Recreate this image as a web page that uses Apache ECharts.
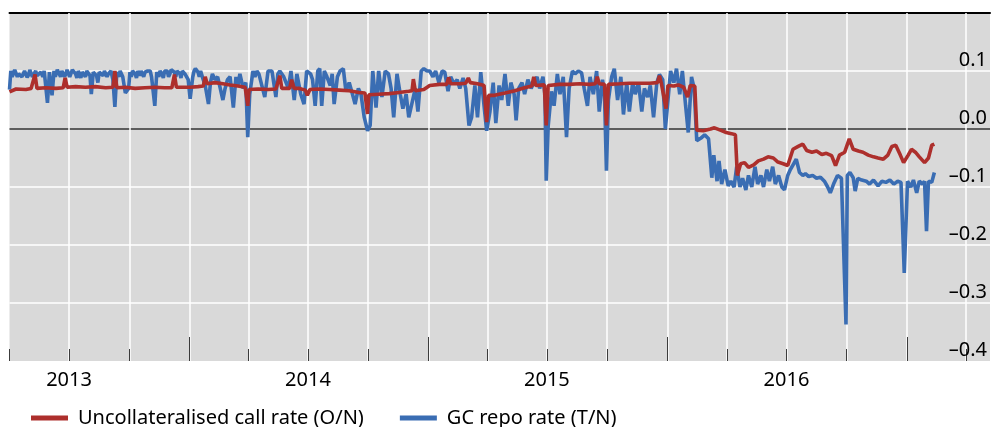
<!DOCTYPE html>
<html><head><meta charset="utf-8">
<script src="https://cdn.jsdelivr.net/npm/echarts@6.0.0/dist/echarts.min.js"></script>
<style>html,body{margin:0;padding:0;background:#fff}#c{width:992px;height:427px}</style>
</head><body><div id="c"></div>
<script>
const callName = 'Uncollateralised call rate (O/N)';
const repoName = 'GC repo rate (T/N)';

const callRate = [
['2013-04-01',0.064],['2013-04-11',0.069],['2013-04-26',0.068],['2013-05-04',0.07],['2013-05-07',0.07],['2013-05-10',0.094],['2013-05-13',0.07],
['2013-05-26',0.071],['2013-06-11',0.07],['2013-06-22',0.071],['2013-06-25',0.088],['2013-06-28',0.072],['2013-07-11',0.073],['2013-07-26',0.072],
['2013-08-10',0.073],['2013-08-26',0.071],['2013-09-06',0.072],['2013-09-09',0.1],['2013-09-12',0.071],['2013-09-25',0.072],['2013-10-10',0.07],
['2013-10-25',0.071],['2013-11-09',0.072],['2013-11-24',0.071],['2013-12-05',0.071],['2013-12-09',0.094],['2013-12-12',0.072],['2013-12-25',0.072],
['2014-01-02',0.072],['2014-01-14',0.073],['2014-01-22',0.074],['2014-01-25',0.09],['2014-01-28',0.078],['2014-02-09',0.08],['2014-02-21',0.078],
['2014-03-04',0.076],['2014-03-16',0.074],['2014-03-27',0.072],['2014-03-31',0.04],['2014-04-02',0.068],['2014-04-16',0.069],['2014-05-01',0.068],
['2014-05-13',0.069],['2014-05-19',0.092],['2014-05-22',0.07],['2014-06-03',0.07],['2014-06-06',0.085],['2014-06-10',0.07],['2014-06-18',0.07],
['2014-06-27',0.067],['2014-06-30',0.058],['2014-07-04',0.068],['2014-07-19',0.069],['2014-08-03',0.068],['2014-08-18',0.067],['2014-09-02',0.066],
['2014-09-17',0.063],['2014-09-26',0.062],['2014-09-30',0.026],['2014-10-02',0.059],['2014-10-17',0.06],['2014-11-02',0.061],['2014-11-17',0.063],
['2014-12-02',0.065],['2014-12-07',0.066],['2014-12-09',0.086],['2014-12-12',0.066],['2014-12-25',0.068],
['2015-01-03',0.075],['2015-01-18',0.077],['2015-01-29',0.077],['2015-02-01',0.089],['2015-02-04',0.078],['2015-02-18',0.078],['2015-02-27',0.079],
['2015-03-03',0.088],['2015-03-06',0.08],['2015-03-17',0.078],['2015-03-27',0.075],['2015-03-31',0.012],['2015-04-03',0.058],['2015-04-12',0.058],
['2015-04-28',0.062],['2015-05-13',0.066],['2015-05-28',0.071],['2015-06-08',0.074],['2015-06-11',0.09],['2015-06-14',0.075],['2015-06-27',0.076],
['2015-06-30',0.006],['2015-07-03',0.075],['2015-07-20',0.077],['2015-08-04',0.077],['2015-08-20',0.078],['2015-09-04',0.077],['2015-09-13',0.078],
['2015-09-16',0.09],['2015-09-19',0.078],['2015-09-27',0.077],['2015-09-30',0.006],['2015-10-03',0.077],['2015-10-20',0.078],['2015-11-04',0.079],
['2015-11-20',0.079],['2015-12-05',0.079],['2015-12-17',0.08],['2015-12-20',0.092],['2015-12-23',0.078],['2015-12-30',0.035],
['2016-01-02',0.075],['2016-01-11',0.074],['2016-01-18',0.076],['2016-01-26',0.072],['2016-02-01',0.055],['2016-02-05',0.075],['2016-02-12',0.074],
['2016-02-15',-0.002],['2016-02-25',-0.003],['2016-03-07',0.0],['2016-03-13',0.002],['2016-03-22',-0.002],['2016-03-31',-0.006],['2016-04-08',-0.008],
['2016-04-14',-0.01],['2016-04-17',-0.08],['2016-04-22',-0.06],['2016-04-28',-0.058],['2016-05-04',-0.066],['2016-05-12',-0.062],['2016-05-19',-0.055],
['2016-05-27',-0.052],['2016-06-03',-0.048],['2016-06-11',-0.05],['2016-06-18',-0.057],['2016-06-26',-0.06],['2016-07-03',-0.063],['2016-07-11',-0.035],
['2016-07-19',-0.03],['2016-07-26',-0.026],['2016-08-01',-0.037],['2016-08-09',-0.04],['2016-08-16',-0.038],['2016-08-24',-0.044],['2016-08-31',-0.042],
['2016-09-08',-0.046],['2016-09-14',-0.063],['2016-09-20',-0.045],['2016-09-28',-0.04],['2016-10-05',-0.017],['2016-10-11',-0.035],['2016-10-19',-0.038],
['2016-10-26',-0.04],['2016-11-03',-0.045],['2016-11-11',-0.048],['2016-11-18',-0.05],['2016-11-26',-0.052],['2016-12-03',-0.045],['2016-12-09',-0.03],
['2016-12-15',-0.028],['2016-12-22',-0.045],['2016-12-27',-0.058],['2017-01-03',-0.045],['2017-01-08',-0.035],['2017-01-14',-0.04],['2017-01-20',-0.048],
['2017-01-28',-0.058],['2017-02-03',-0.05],['2017-02-08',-0.028],['2017-02-12',-0.026]
];

const repoRate = [
['2013-04-01',0.068],['2013-04-03',0.1],['2013-04-05',0.09],['2013-04-07',0.092],['2013-04-09',0.102],['2013-04-11',0.1],['2013-04-13',0.09],['2013-04-15',0.095],['2013-04-18',0.098],['2013-04-20',0.09],['2013-04-22',0.088],
['2013-04-24',0.1],['2013-04-26',0.1],['2013-04-28',0.089],['2013-04-30',0.093],['2013-05-02',0.102],['2013-05-04',0.1],['2013-05-06',0.09],['2013-05-08',0.09],['2013-05-11',0.1],['2013-05-13',0.092],['2013-05-15',0.095],['2013-05-19',0.098],
['2013-05-22',0.09],['2013-05-24',0.1],['2013-05-26',0.1],['2013-05-29',0.045],['2013-06-01',0.098],['2013-06-05',0.058],['2013-06-08',0.1],['2013-06-10',0.09],['2013-06-11',0.092],
['2013-06-13',0.102],['2013-06-15',0.1],['2013-06-18',0.09],['2013-06-20',0.1],['2013-06-22',0.1],['2013-06-24',0.09],['2013-06-26',0.095],['2013-06-28',0.102],['2013-06-30',0.1],['2013-07-02',0.09],['2013-07-04',0.092],['2013-07-06',0.102],['2013-07-08',0.1],
['2013-07-11',0.095],['2013-07-13',0.088],['2013-07-15',0.1],['2013-07-19',0.088],['2013-07-21',0.098],['2013-07-23',0.1],['2013-07-26',0.09],['2013-07-28',0.1],['2013-07-30',0.1],['2013-08-02',0.092],['2013-08-04',0.06],
['2013-08-07',0.098],['2013-08-10',0.1],['2013-08-12',0.092],['2013-08-14',0.08],['2013-08-16',0.098],['2013-08-18',0.1],['2013-08-22',0.092],['2013-08-24',0.1],['2013-08-26',0.1],['2013-08-28',0.09],['2013-08-30',0.095],
['2013-09-03',0.1],['2013-09-06',0.085],['2013-09-09',0.038],['2013-09-12',0.098],['2013-09-15',0.09],['2013-09-17',0.1],['2013-09-21',0.09],['2013-09-25',0.062],
['2013-09-30',0.07],['2013-10-02',0.098],['2013-10-04',0.09],['2013-10-06',0.1],['2013-10-08',0.102],['2013-10-10',0.095],['2013-10-12',0.088],['2013-10-14',0.1],['2013-10-17',0.092],['2013-10-19',0.1],['2013-10-21',0.1],
['2013-10-23',0.09],['2013-10-25',0.098],['2013-10-29',0.1],['2013-11-02',0.1],['2013-11-04',0.09],['2013-11-06',0.092],['2013-11-09',0.04],['2013-11-12',0.098],['2013-11-15',0.09],['2013-11-17',0.1],
['2013-11-20',0.095],['2013-11-22',0.088],['2013-11-24',0.1],['2013-11-28',0.1],['2013-11-30',0.09],['2013-12-02',0.095],['2013-12-04',0.102],['2013-12-06',0.1],['2013-12-09',0.098],['2013-12-11',0.09],['2013-12-13',0.1],
['2013-12-17',0.096],['2013-12-19',0.088],['2013-12-21',0.1],['2013-12-25',0.095],['2013-12-30',0.085],
['2014-01-02',0.052],['2014-01-06',0.09],['2014-01-08',0.1],['2014-01-10',0.104],['2014-01-14',0.098],['2014-01-16',0.09],['2014-01-18',0.1],['2014-01-22',0.085],['2014-01-25',0.075],
['2014-01-30',0.043],['2014-02-02',0.08],['2014-02-05',0.095],['2014-02-09',0.085],['2014-02-13',0.09],['2014-02-17',0.07],['2014-02-21',0.05],
['2014-02-24',0.068],['2014-02-28',0.085],['2014-03-04',0.09],['2014-03-09',0.037],['2014-03-13',0.09],['2014-03-16',0.075],['2014-03-19',0.095],
['2014-03-24',0.07],['2014-03-28',0.08],['2014-03-31',-0.014],['2014-04-03',0.06],['2014-04-08',0.1],['2014-04-11',0.09],['2014-04-14',0.1],['2014-04-17',0.095],
['2014-04-20',0.098],['2014-04-26',0.055],['2014-05-01',0.1],['2014-05-04',0.098],['2014-05-07',0.1],['2014-05-13',0.055],['2014-05-16',0.095],
['2014-05-19',0.1],['2014-05-25',0.09],['2014-06-01',0.07],['2014-06-05',0.1],['2014-06-10',0.05],['2014-06-14',0.095],['2014-06-20',0.06],
['2014-06-25',0.043],['2014-06-29',0.1],['2014-07-05',0.095],['2014-07-08',0.085],['2014-07-12',0.04],['2014-07-16',0.1],['2014-07-19',0.104],
['2014-07-22',0.04],['2014-07-26',0.1],['2014-07-30',0.09],['2014-08-04',0.075],['2014-08-07',0.095],['2014-08-10',0.043],['2014-08-15',0.09],
['2014-08-19',0.1],['2014-08-24',0.104],['2014-08-28',0.065],['2014-09-02',0.08],['2014-09-07',0.06],['2014-09-11',0.043],['2014-09-16',0.07],
['2014-09-20',0.06],['2014-09-25',0.02],['2014-09-30',-0.003],['2014-10-04',0.006],['2014-10-08',0.1],['2014-10-13',0.037],['2014-10-17',0.1],
['2014-10-22',0.055],['2014-10-27',0.1],['2014-11-01',0.095],['2014-11-05',0.07],['2014-11-09',0.02],['2014-11-14',0.095],['2014-11-19',0.06],
['2014-11-23',0.035],['2014-11-28',0.06],['2014-12-02',0.02],['2014-12-07',0.045],['2014-12-12',0.07],['2014-12-16',0.03],['2014-12-21',0.1],
['2014-12-25',0.104],['2014-12-30',0.1],
['2015-01-03',0.1],['2015-01-08',0.09],['2015-01-12',0.1],['2015-01-17',0.08],['2015-01-22',0.1],['2015-01-26',0.098],['2015-01-31',0.065],
['2015-02-04',0.09],['2015-02-09',0.078],['2015-02-14',0.085],['2015-02-18',0.07],['2015-02-23',0.088],['2015-02-27',0.07],['2015-03-04',0.006],
['2015-03-08',0.02],['2015-03-13',0.075],['2015-03-17',0.02],['2015-03-22',0.098],['2015-03-27',0.04],['2015-03-31',-0.003],['2015-04-05',0.03],
['2015-04-10',0.08],['2015-04-14',0.01],['2015-04-19',0.075],['2015-04-23',0.05],['2015-04-28',0.095],['2015-05-03',0.04],['2015-05-07',0.08],
['2015-05-12',0.06],['2015-05-15',0.015],['2015-05-19',0.07],['2015-05-24',0.08],['2015-05-28',0.06],['2015-06-02',0.085],['2015-06-07',0.07],
['2015-06-11',0.08],['2015-06-16',0.09],['2015-06-20',0.07],['2015-06-25',0.09],['2015-06-28',0.06],['2015-06-30',-0.089],['2015-07-03',0.005],
['2015-07-08',0.065],['2015-07-12',0.04],['2015-07-17',0.095],['2015-07-21',0.06],['2015-07-26',0.09],['2015-07-31',-0.014],['2015-08-04',0.07],
['2015-08-09',0.1],['2015-08-13',0.095],['2015-08-18',0.1],['2015-08-23',0.097],['2015-08-27',0.07],['2015-09-01',0.04],['2015-09-05',0.09],
['2015-09-10',0.06],['2015-09-15',0.1],['2015-09-19',0.03],['2015-09-24',0.085],['2015-09-27',0.06],['2015-09-30',-0.072],['2015-10-03',0.05],
['2015-10-08',0.09],['2015-10-12',0.104],['2015-10-17',0.05],['2015-10-22',0.09],['2015-10-26',0.025],['2015-10-31',0.08],['2015-11-04',0.03],
['2015-11-09',0.08],['2015-11-13',0.06],['2015-11-18',0.08],['2015-11-23',0.03],['2015-11-27',0.07],['2015-12-02',0.055],['2015-12-06',0.075],
['2015-12-11',0.02],['2015-12-16',0.08],['2015-12-20',0.094],['2015-12-25',0.085],['2015-12-29',0.0],
['2016-01-02',0.05],['2016-01-06',0.1],['2016-01-11',0.08],['2016-01-15',0.104],['2016-01-20',0.06],['2016-01-24',0.1],['2016-01-29',0.04],
['2016-02-02',-0.006],['2016-02-07',0.09],['2016-02-11',0.07],['2016-02-15',-0.02],['2016-02-21',-0.016],['2016-02-27',-0.01],['2016-03-04',-0.017],
['2016-03-09',-0.084],['2016-03-12',-0.045],['2016-03-17',-0.09],['2016-03-20',-0.055],['2016-03-24',-0.095],['2016-03-29',-0.07],['2016-04-03',-0.098],
['2016-04-07',-0.09],['2016-04-12',-0.1],['2016-04-16',-0.065],['2016-04-21',-0.1],['2016-04-25',-0.085],['2016-04-30',-0.105],['2016-05-04',-0.08],
['2016-05-09',-0.1],['2016-05-14',-0.065],['2016-05-18',-0.095],['2016-05-23',-0.08],['2016-05-27',-0.1],['2016-06-01',-0.07],['2016-06-05',-0.09],
['2016-06-10',-0.065],['2016-06-14',-0.095],['2016-06-19',-0.08],['2016-06-24',-0.1],['2016-06-28',-0.105],['2016-07-03',-0.08],['2016-07-07',-0.07],
['2016-07-12',-0.06],['2016-07-16',-0.052],['2016-07-21',-0.075],['2016-07-26',-0.08],['2016-07-30',-0.077],['2016-08-04',-0.082],['2016-08-10',-0.08],
['2016-08-16',-0.085],['2016-08-22',-0.083],['2016-08-28',-0.09],['2016-09-02',-0.1],['2016-09-06',-0.11],['2016-09-11',-0.095],['2016-09-17',-0.08],
['2016-09-23',-0.085],['2016-09-26',-0.082],['2016-09-30',-0.337],['2016-10-02',-0.08],['2016-10-06',-0.075],['2016-10-11',-0.084],['2016-10-14',-0.107],
['2016-10-18',-0.085],['2016-10-24',-0.088],['2016-10-31',-0.09],['2016-11-05',-0.095],['2016-11-11',-0.088],['2016-11-18',-0.098],['2016-11-24',-0.09],
['2016-11-30',-0.092],['2016-12-06',-0.088],['2016-12-12',-0.095],['2016-12-18',-0.09],['2016-12-23',-0.092],['2016-12-28',-0.248],['2017-01-02',-0.09],
['2017-01-07',-0.1],['2017-01-11',-0.088],['2017-01-16',-0.11],['2017-01-20',-0.09],['2017-01-25',-0.095],['2017-01-28',-0.09],['2017-01-31',-0.176],
['2017-02-03',-0.09],['2017-02-08',-0.092],['2017-02-12',-0.075]
];

const quarterTicks = ['2013-04-01','2013-07-01','2013-10-01','2014-01-01','2014-04-01','2014-07-01','2014-10-01',
  '2015-01-01','2015-04-01','2015-07-01','2015-10-01','2016-01-01','2016-04-01','2016-07-01','2016-10-01',
  '2017-01-01','2017-04-01'];
const yearTicks = ['2014-01-01','2015-01-01','2016-01-01','2017-01-01'];
const yearLabels = ['2013','2014','2015','2016'];
const axisStart = '2013-04-01';
const axisEnd = '2017-05-08';

function ts(s){ const p = s.split('-').map(Number); return new Date(p[0], p[1]-1, p[2]).getTime(); }
const toXY = arr => arr.map(d => [ts(d[0]), d[1]]);

const FONT = '"Noto Sans", "Open Sans", sans-serif';
const RED = '#ad2f2c';
const BLUE = '#3a6db3';
const TICK = '#3c3c3c';

const base = {
  type: 'value', min: ts(axisStart), max: ts(axisEnd), scale: true,
  axisLine: {show: false, onZero: false},
  axisLabel: {show: false},
  axisTick: {show: false},
  splitLine: {show: false},
  axisPointer: {show: false}
};

const chart = echarts.init(document.getElementById('c'), null, {renderer: 'canvas'});
chart.setOption({
  animation: false,
  grid: {left: 9.5, right: 2, top: 13, bottom: 66, show: true, backgroundColor: '#d9d9d9', borderWidth: 0,
         containLabel: false, outerBoundsMode: 'none'},
  xAxis: [
    Object.assign({}, base, {position: 'bottom',
      axisTick: {show: true, inside: true, length: 348, customValues: quarterTicks.slice(1).map(ts),
                 lineStyle: {color: '#ffffff', width: 1.5}}}),
    Object.assign({}, base, {position: 'bottom',
      axisTick: {show: true, inside: true, length: 12, customValues: quarterTicks.map(ts),
                 lineStyle: {color: TICK, width: 1}}}),
    Object.assign({}, base, {position: 'bottom',
      axisTick: {show: true, inside: true, length: 24, customValues: yearTicks.map(ts),
                 lineStyle: {color: TICK, width: 1}},
      axisLabel: {show: true, customValues: yearLabels.map(y => ts(y + '-07-01')),
                  formatter: v => String(new Date(v).getFullYear()),
                  color: '#000', fontFamily: FONT, fontSize: 20, margin: 9}}),
    Object.assign({}, base, {position: 'top',
      axisLine: {show: true, onZero: false, lineStyle: {color: '#000', width: 2}}})
  ],
  yAxis: {
    type: 'value', position: 'right', min: -0.4, max: 0.2, interval: 0.1,
    axisLine: {show: false}, axisTick: {show: false},
    axisLabel: {inside: true, margin: 3, showMaxLabel: false, color: '#000', fontFamily: FONT, fontSize: 20,
      verticalAlign: 'bottom', lineHeight: 21,
      formatter: v => Math.abs(v) < 1e-9 ? '0.0' : (v < 0 ? '\u2013' : '') + Math.abs(v).toFixed(1)},
    splitLine: {show: true, lineStyle: {width: 1.5,
      color: ['rgba(0,0,0,0)', '#ffffff', '#ffffff', '#ffffff', '#333333', '#ffffff', 'rgba(0,0,0,0)']}}
  },
  legend: {
    data: [callName, repoName], left: 31, top: 408, padding: 0, icon: 'rect', itemWidth: 37, itemHeight: 5,
    itemGap: 36, selectedMode: false, itemStyle: {borderWidth: 0},
    textStyle: {color: '#000', fontFamily: FONT, fontSize: 20, padding: [0, 0, 0, 5]}
  },
  series: [
    {name: repoName, type: 'line', xAxisIndex: 0, data: toXY(repoRate), color: BLUE, symbol: 'none', showSymbol: false,
     lineStyle: {color: BLUE, width: 3.6, join: 'bevel'}, z: 3},
    {name: callName, type: 'line', xAxisIndex: 0, data: toXY(callRate), color: RED, symbol: 'none', showSymbol: false,
     lineStyle: {color: RED, width: 3.6, join: 'bevel'}, z: 4}
  ]
});
</script>
</body></html>
